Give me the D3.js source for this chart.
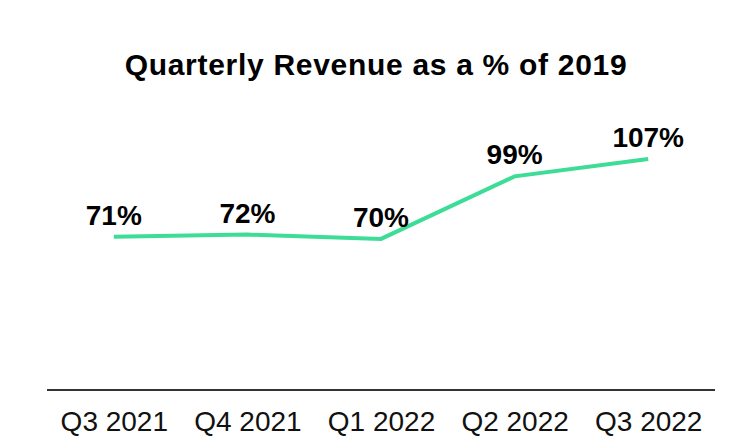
<!DOCTYPE html>
<html>
<head>
<meta charset="utf-8">
<script src="https://cdn.jsdelivr.net/npm/d3@7"></script>
<style>
  body { margin: 0; background: #fff; }
  svg { display: block; font-family: "Liberation Sans", Arial, sans-serif; }
</style>
</head>
<body>
<div id="chart"></div>
<script>
// chart data
const quarters = ["Q3 2021", "Q4 2021", "Q1 2022", "Q2 2022", "Q3 2022"];
const revenuePct = [71, 72, 70, 99, 107];

const width = 738;
const height = 442;

const svg = d3.select("#chart").append("svg")
    .attr("width", width)
    .attr("height", height);

// scales
const x = d3.scalePoint()
    .domain(quarters)
    .range([47, 715])
    .padding(0.5);

const y = d3.scaleLinear()
    .domain([0, 120])
    .range([390, 131]);

// title
svg.append("text")
    .attr("x", 376)
    .attr("y", 75)
    .attr("text-anchor", "middle")
    .style("font-size", "30px")
    .style("font-weight", "bold")
    .style("letter-spacing", "0.7px")
    .text("Quarterly Revenue as a % of 2019");

// x axis
const xAxis = svg.append("g")
    .attr("transform", "translate(0,390)")
    .call(d3.axisBottom(x).tickSize(0).tickPadding(21));
xAxis.select(".domain")
    .attr("d", "M47,0H715")
    .attr("stroke", "#333")
    .attr("stroke-width", 2);
xAxis.selectAll("text")
    .attr("fill", "#111")
    .style("font-size", "28px")
    .style("font-family", "'Liberation Sans', Arial, sans-serif");

// line
const line = d3.line()
    .x((d, i) => x(quarters[i]))
    .y(d => y(d));

svg.append("path")
    .datum(revenuePct)
    .attr("fill", "none")
    .attr("stroke", "#3ddc97")
    .attr("stroke-width", 4)
    .attr("d", line);

// value labels
svg.append("g")
    .selectAll("text")
    .data(revenuePct)
    .join("text")
    .attr("x", (d, i) => x(quarters[i]))
    .attr("y", d => y(d) - 12)
    .attr("text-anchor", "middle")
    .style("font-size", "28px")
    .style("font-weight", "bold")
    .text(d => d + "%");
</script>
</body>
</html>
